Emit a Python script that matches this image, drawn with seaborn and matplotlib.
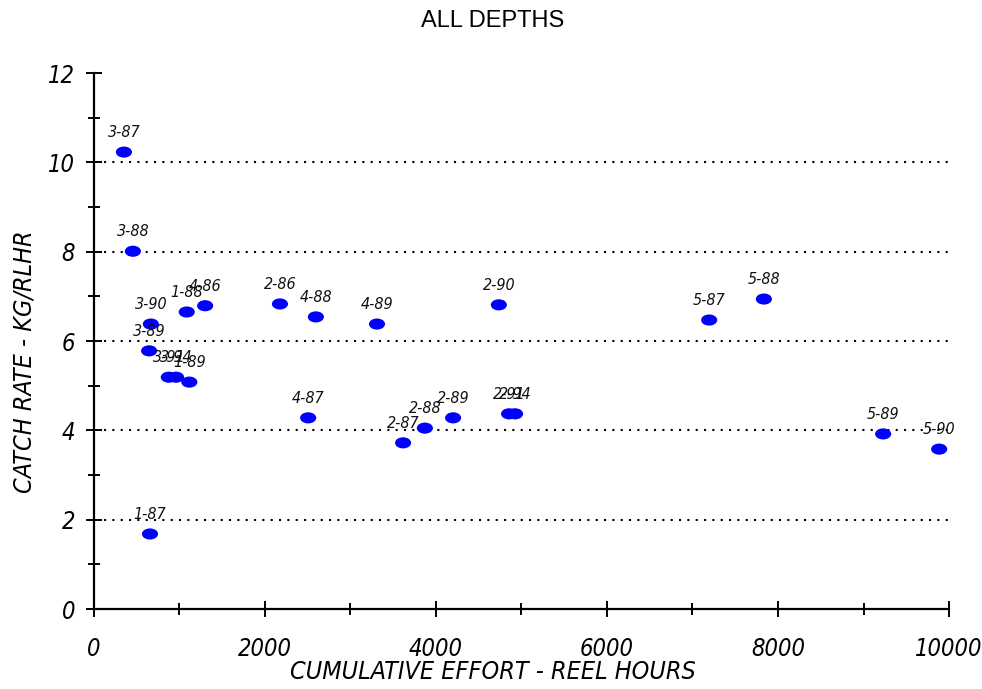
import matplotlib
matplotlib.use("Agg")
import matplotlib.pyplot as plt
from matplotlib.path import Path
from matplotlib.transforms import Affine2D
from matplotlib.ticker import MultipleLocator
import seaborn as sns
import pandas as pd

# Season/area codes and their cumulative effort and catch rate
labels = ["3-87", "3-88", "3-90", "3-89", "1-88", "4-86", "3-91", "3-94",
          "1-89", "2-86", "4-88", "4-89", "2-90", "5-87", "5-88", "4-87",
          "2-87", "2-88", "2-89", "2-91", "2-94", "5-89", "5-90", "1-87"]
effort = [350, 455, 665, 645, 1085, 1300, 875, 960,
          1115, 2175, 2595, 3310, 4735, 7195, 7835, 2505,
          3615, 3870, 4200, 4855, 4925, 9230, 9885, 655]
catch_rate = [10.23, 8.01, 6.38, 5.78, 6.65, 6.79, 5.19, 5.19,
              5.08, 6.83, 6.54, 6.38, 6.81, 6.47, 6.94, 4.28,
              3.72, 4.05, 4.28, 4.37, 4.37, 3.92, 3.58, 1.68]

df = pd.DataFrame({"label": labels, "effort": effort, "rate": catch_rate})

sns.set_theme(style="ticks")
plt.rcParams["font.family"] = ["DejaVu Sans"]
plt.rcParams["font.stretch"] = "condensed"
for key in ["text.color", "axes.labelcolor", "xtick.color", "ytick.color",
            "xtick.labelcolor", "ytick.labelcolor"]:
    plt.rcParams[key] = "black"

fig = plt.figure(figsize=(9.82, 6.89), dpi=100)
ax = fig.add_axes([0.0957, 0.1161, 0.8707, 0.7779])

# Horizontal ellipse marker
ellipse = Path.unit_circle().transformed(Affine2D().scale(1.45, 1.0))

sns.scatterplot(data=df, x="effort", y="rate", ax=ax, marker=ellipse,
                s=135, color="#0000ff", edgecolor="none", linewidth=0, zorder=3)

for lab, xv, yv in zip(labels, effort, catch_rate):
    ax.annotate(lab, (xv, yv), xytext=(0, 8.5), textcoords="offset points",
                ha="center", va="bottom", fontsize=11.5, style="italic",
                stretch="condensed", color="#111111")

ax.set_xlim(0, 10000)
ax.set_ylim(0, 12)
ax.xaxis.set_major_locator(MultipleLocator(2000))
ax.xaxis.set_minor_locator(MultipleLocator(1000))
ax.yaxis.set_major_locator(MultipleLocator(2))
ax.yaxis.set_minor_locator(MultipleLocator(1))

for yv in [2, 4, 6, 8, 10]:
    ax.axhline(yv, xmin=0.012, color="black", lw=1.5, ls=(0, (1, 3)), zorder=1)

for side in ["top", "right"]:
    ax.spines[side].set_visible(False)
for side in ["left", "bottom"]:
    ax.spines[side].set_linewidth(1.6)
    ax.spines[side].set_color("black")

ax.tick_params(which="major", direction="inout", length=12, width=1.4, color="black")
ax.tick_params(which="minor", direction="inout", length=8, width=1.4, color="black")
ax.tick_params(axis="x", which="major", pad=14, labelsize=17)
ax.tick_params(axis="y", which="major", pad=7.5, labelsize=17)
for t in ax.get_xticklabels() + ax.get_yticklabels():
    t.set_fontstyle("italic")
    t.set_fontstretch("condensed")

ax.set_xlabel("CUMULATIVE EFFORT - REEL HOURS", fontsize=18, style="italic",
              stretch="condensed", va="center")
ax.xaxis.set_label_coords(0.467, -0.1175)
ax.set_ylabel("CATCH RATE - KG/RLHR", fontsize=18, style="italic",
              stretch="condensed", va="center")
ax.yaxis.set_label_coords(-0.0807, 0.461)
fig.text(0.502, 0.969, "ALL DEPTHS", ha="center", va="center", fontsize=17,
         family=["Liberation Sans", "DejaVu Sans"], stretch="normal")

fig.savefig("out.png", dpi=100)
